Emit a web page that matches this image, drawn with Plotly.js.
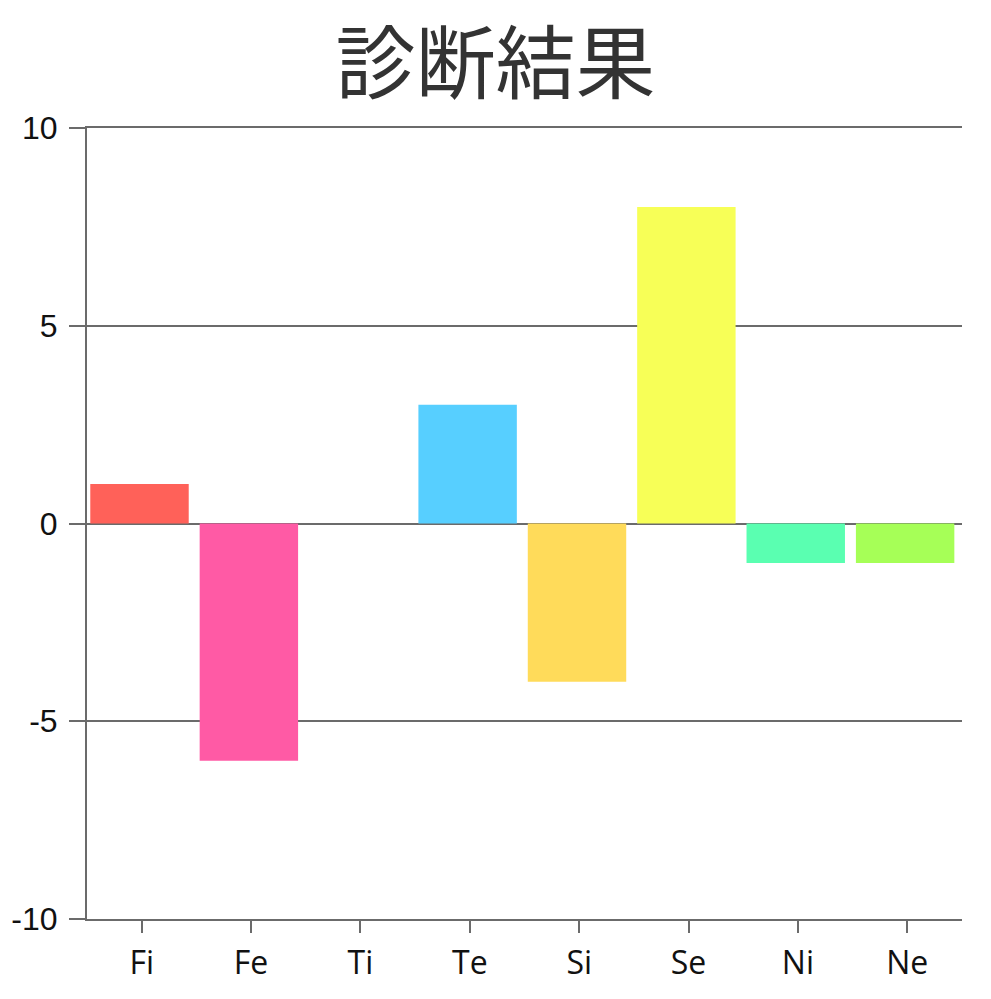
<!DOCTYPE html>
<html>
<head>
<meta charset="utf-8">
<script src="https://cdn.plot.ly/plotly-3.0.1.min.js"></script>
<style>
  html, body { margin: 0; padding: 0; background: #fff; }
  #chart { width: 991px; height: 999px; }
</style>
</head>
<body>
<div id="chart"></div>
<script>
  // functions and their scores
  const FUNCS = ['Fi', 'Fe', 'Ti', 'Te', 'Si', 'Se', 'Ni', 'Ne'];
  const SCORES = [1, -6, 0, 3, -4, 8, -1, -1];
  const COLORS = ['#ff6159', '#ff5aa5', '#5cffb3', '#57cfff', '#ffdb5a', '#f7ff57', '#5affb1', '#a6ff57'];
  const Y_TICKS = [-10, -5, 0, 5, 10];

  const AXIS_GREY = '#6b6b6b';

  const trace = {
    x: FUNCS,
    y: SCORES,
    type: 'bar',
    width: 0.9,
    offset: -0.47,   // bars sit a touch left of their ticks in the original
    marker: { color: COLORS, line: { width: 0 } },
    hoverinfo: 'x+y'
  };

  const layout = {
    width: 991,
    height: 999,
    paper_bgcolor: '#ffffff',
    plot_bgcolor: '#ffffff',
    title: {
      text: '診断結果',
      font: { family: '"Noto Sans CJK JP", sans-serif', size: 80, color: '#333333' },
      x: 0.5,
      xanchor: 'center',
      y: 0.936,
      yanchor: 'middle'
    },
    margin: { l: 87, r: 29, t: 128, b: 80 },
    showlegend: false,
    xaxis: {
      type: 'category',
      showgrid: false,
      showline: true,
      mirror: true,
      linecolor: AXIS_GREY,
      linewidth: 2,
      ticks: 'outside',
      ticklen: 12,
      tickwidth: 2,
      tickcolor: AXIS_GREY,
      ticklabelstandoff: 3,
      tickfont: { family: '"Open Sans", "Noto Sans", sans-serif', size: 32, color: '#111111' },
      fixedrange: true
    },
    yaxis: {
      range: [-10, 10],
      tickvals: Y_TICKS,
      ticktext: Y_TICKS.map(String),
      showgrid: true,
      gridcolor: AXIS_GREY,
      gridwidth: 2,
      zeroline: false,
      showline: true,
      linecolor: AXIS_GREY,
      linewidth: 2,
      ticks: 'outside',
      ticklen: 16,
      tickwidth: 2,
      tickcolor: AXIS_GREY,
      ticklabelstandoff: 5,
      tickfont: { family: '"Liberation Sans", Arial, sans-serif', size: 32, color: '#111111' },
      fixedrange: true
    }
  };

  Plotly.newPlot('chart', [trace], layout, { displayModeBar: false, staticPlot: true });
</script>
</body>
</html>
